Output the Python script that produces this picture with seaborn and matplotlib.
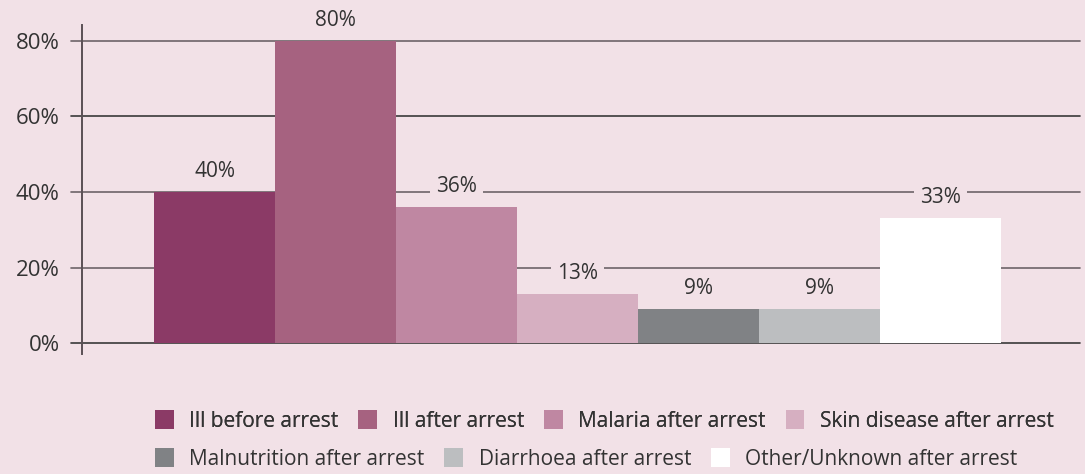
import matplotlib
matplotlib.use("Agg")
import matplotlib.pyplot as plt
import seaborn as sns
import pandas as pd
from matplotlib.patches import Patch

categories = ["Ill before arrest", "Ill after arrest", "Malaria after arrest",
              "Skin disease after arrest", "Malnutrition after arrest",
              "Diarrhoea after arrest", "Other/Unknown after arrest"]
values = [40, 80, 36, 13, 9, 9, 33]
labels = ["40%", "80%", "36%", "13%", "9%", "9%", "33%"]
yticks = [0, 20, 40, 60, 80]
ytick_labels = ["0%", "20%", "40%", "60%", "80%"]
colors = ["#8B3A66", "#A66280", "#BF87A2", "#D6AFC1", "#808285", "#BCBEC0", "#FFFFFF"]
bg = "#F2E1E7"

sns.set_theme(style="white")
plt.rcParams['font.family'] = ['Open Sans', 'DejaVu Sans']

fig = plt.figure(figsize=(10.85, 4.74), dpi=100, facecolor=bg)
ax = fig.add_axes([82/1085, 1-354/474, (1080-82)/1085, (354-25)/474])
ax.set_facecolor(bg)

df = pd.DataFrame({"cat": categories, "val": values})
sns.barplot(data=df, x="cat", y="val", hue="cat", palette=colors, width=1.0,
            legend=False, ax=ax, saturation=1, zorder=3, linewidth=0)

ax.set_xlim(-1.095, 7.15)
ax.set_ylim(-2.9, 84.2)
ax.set_yticks(yticks)
ax.set_yticklabels(ytick_labels, fontsize=16, color="#333333")
ax.set_xticks([])
ax.set_xlabel("")
ax.set_ylabel("")
for y in yticks:
    ax.axhline(y, xmin=-11/998, xmax=1, color="#3a3a3a" if y in (0, 60) else "#6d6368",
               lw=1.2, zorder=1, clip_on=False)
for s in ["top", "right", "bottom"]:
    ax.spines[s].set_visible(False)
ax.spines["left"].set_color("#5a5055")
ax.spines["left"].set_linewidth(1.4)
ax.tick_params(axis="y", length=0, pad=16)

for i, (v, lab) in enumerate(zip(values, labels)):
    ax.text(i, v + 5.4, lab, ha="center", va="center", fontsize=15, color="#333333",
            zorder=4, bbox=dict(boxstyle="square,pad=0.3", fc=bg, ec="none"))

handles = [Patch(facecolor=c, edgecolor="none") for c in colors]
common = dict(loc="center left", frameon=False, fontsize=15, handlelength=0.9,
              handleheight=1.0, handletextpad=0.75, columnspacing=0.95,
              labelcolor="#333333", borderaxespad=0, borderpad=0)
leg1 = fig.legend(handles[:4], categories[:4], bbox_to_anchor=(155/1085, 1-421/474),
                  ncol=4, **common)
fig.add_artist(leg1)
leg2 = fig.legend(handles[4:], categories[4:], bbox_to_anchor=(155/1085, 1-459/474),
                  ncol=3, **common)

fig.savefig("out.png", dpi=100, facecolor=bg)
